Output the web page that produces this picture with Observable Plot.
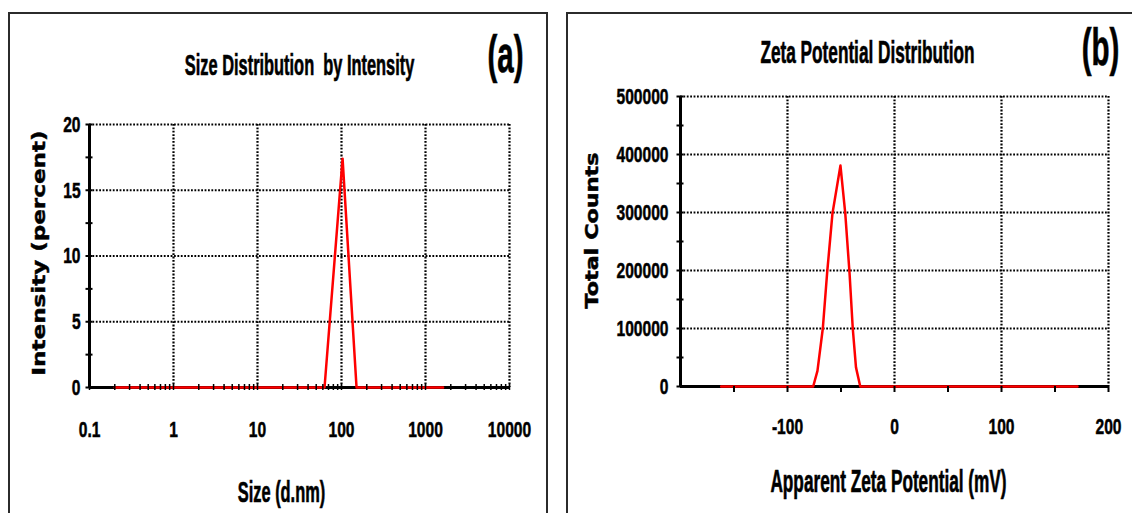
<!DOCTYPE html>
<html><head><meta charset="utf-8">
<script src="https://cdn.jsdelivr.net/npm/d3@7"></script>
<script src="https://cdn.jsdelivr.net/npm/@observablehq/plot@0.6"></script>
<style>
html,body{margin:0;padding:0;background:#fff;}
#wrap{position:relative;width:1132px;height:513px;overflow:hidden;background:#fff;}
.box{position:absolute;border:2px solid #2b2b2b;box-sizing:border-box;}
.panel{position:absolute;top:0;}
</style></head><body>
<div id="wrap">
  <div class="box" style="left:8px;top:12px;width:540px;height:540px"></div>
  <div class="box" style="left:566px;top:12px;width:600px;height:540px"></div>
  <div class="panel" id="pa" style="left:0px"></div>
  <div class="panel" id="pb" style="left:560px"></div>
</div>
<script>
// ---------- Panel (a): size distribution by intensity ----------
const sizeNm       = [0.2, 62.8, 103, 151, 1620];
const intensityPct = [0,   0,    17.4, 0,  0];
const sizeTicks      = [0.1, 1, 10, 100, 1000, 10000];
const sizeTickLabels = ["0.1", "1", "10", "100", "1000", "10000"];
const intensityTicks = [0, 5, 10, 15, 20];

// ---------- Panel (b): zeta potential distribution ----------
const zetaMv      = [-162, -76, -72, -67, -63, -58, -50.5, -46, -42, -39, -36, -32, 171];
const totalCounts = [0, 0, 27000, 100000, 195000, 298000, 381000, 298000, 195000, 100000, 33000, 0, 0];
const zetaTicks  = [-100, 0, 100, 200];
const countTicks = [0, 100000, 200000, 300000, 400000, 500000];

const FONT = '"Liberation Sans", Arial, sans-serif';
const WIDE = '"DejaVu Sans", Verdana, sans-serif';
const dotted = {stroke: "#000", strokeOpacity: 1, strokeWidth: 2.2, strokeDasharray: "1.8,1.6"};

const sizeData = sizeNm.map((s, i) => ({size: s, pct: intensityPct[i]}));
const zetaData = zetaMv.map((z, i) => ({mv: z, counts: totalCounts[i]}));

// log minor ticks
const minorLog = [];
for (let d = 0.1; d < 10000; d *= 10) for (let k = 1; k < 10; k++) minorLog.push(+(d * k).toPrecision(3));
minorLog.push(10000);

const baseStyle = {fontFamily: FONT, fontWeight: "bold", fontSize: "19px", color: "#000", background: "transparent", overflow: "visible"};

const plotA = Plot.plot({
  width: 560, height: 513,
  marginLeft: 89, marginRight: 51, marginTop: 124, marginBottom: 126,
  x: {type: "log", domain: [0.1, 10000]},
  y: {domain: [0, 20]},
  style: baseStyle,
  marks: [
    Plot.gridX({ticks: sizeTicks.slice(1), ...dotted}),
    Plot.gridY({ticks: intensityTicks.slice(1), ...dotted}),
    Plot.ruleX([0.1], {stroke: "#000", strokeWidth: 3}),
    Plot.ruleY([0], {stroke: "#000", strokeWidth: 3}),
    Plot.line(sizeData, {x: "size", y: "pct", stroke: "#ff0000", strokeWidth: 2.5}),
    Plot.axisX({ticks: minorLog, tickSize: 6, dy: -3, tickFormat: () => "", stroke: "#000", strokeWidth: 1.5, label: null}),
    Plot.axisY({ticks: d3.range(0, 20.01, 2.5), tickSize: 7, dx: 3.5, tickFormat: () => "", stroke: "#000", strokeWidth: 2, label: null}),
    Plot.axisX({ticks: sizeTicks, tickSize: 0, tickPadding: 35, tickFormat: (d) => sizeTickLabels[sizeTicks.indexOf(d)], fontSize: 19, label: null}),
    Plot.axisY({ticks: intensityTicks, tickSize: 0, tickPadding: 9, fontSize: 19, label: null}),
    Plot.text(["Size Distribution  by Intensity"], {frameAnchor: "top-left", textAnchor: "middle", lineAnchor: "bottom", dx: 210, dy: -52.5, fontSize: 20}),
    Plot.text(["(a)"], {frameAnchor: "top-left", textAnchor: "middle", lineAnchor: "bottom", dx: 416, dy: -58, fontSize: 36}),
    Plot.text(["Size (d.nm)"], {frameAnchor: "bottom-left", textAnchor: "middle", lineAnchor: "bottom", dx: 192, dy: 111, fontSize: 20}),
    Plot.text(["Intensity (percent)"], {frameAnchor: "left", textAnchor: "middle", lineAnchor: "bottom", rotate: -90, dx: -45, dy: -3, fontSize: 17.5, fontFamily: WIDE})
  ]
});

const plotB = Plot.plot({
  width: 572, height: 513,
  marginLeft: 120, marginRight: 24, marginTop: 96, marginBottom: 127,
  x: {domain: [-200, 200]},
  y: {domain: [0, 500000]},
  style: baseStyle,
  marks: [
    Plot.gridX({ticks: zetaTicks, ...dotted}),
    Plot.gridY({ticks: countTicks.slice(1), ...dotted}),
    Plot.ruleX([-200], {stroke: "#000", strokeWidth: 3}),
    Plot.ruleY([0], {stroke: "#000", strokeWidth: 3}),
    Plot.line(zetaData, {x: "mv", y: "counts", stroke: "#ff0000", strokeWidth: 2.5}),
    Plot.axisX({ticks: d3.range(-150, 201, 50), tickSize: 6, tickFormat: () => "", stroke: "#000", strokeWidth: 2, label: null}),
    Plot.axisY({ticks: d3.range(0, 500001, 50000), tickSize: 7, dx: 3.5, tickFormat: () => "", stroke: "#000", strokeWidth: 2, label: null}),
    Plot.axisX({ticks: zetaTicks, tickSize: 0, tickPadding: 33, tickFormat: (d) => String(d), fontSize: 19, label: null}),
    Plot.axisY({ticks: countTicks, tickSize: 0, tickPadding: 12, tickFormat: (d) => String(d), fontSize: 19, label: null}),
    Plot.text(["Zeta Potential Distribution"], {frameAnchor: "top-left", textAnchor: "middle", lineAnchor: "bottom", dx: 187, dy: -37, fontSize: 21}),
    Plot.text(["(b)"], {frameAnchor: "top-left", textAnchor: "middle", lineAnchor: "bottom", dx: 420, dy: -37, fontSize: 36}),
    Plot.text(["Apparent Zeta Potential (mV)"], {frameAnchor: "bottom-left", textAnchor: "middle", lineAnchor: "bottom", dx: 208, dy: 102, fontSize: 21}),
    Plot.text(["Total Counts"], {frameAnchor: "left", textAnchor: "middle", lineAnchor: "bottom", rotate: -90, dx: -83, dy: -11, fontSize: 17.5, fontFamily: WIDE})
  ]
});

document.getElementById("pa").appendChild(plotA);
document.getElementById("pb").appendChild(plotB);

// the reference typeface is tall, narrow and heavy: compress horizontally, stretch vertically
const rotLengths = {"Intensity (percent)": 245, "Total Counts": 156};
function post(svg) {
  d3.select(svg).selectAll("text").each(function () {
    const el = this;
    const t = el.getAttribute("transform") || "";
    const txt = el.textContent;
    if (!txt) return;
    el.style.stroke = "#000";
    el.style.strokeWidth = "0.45px";
    if (t.includes("rotate")) {
      if (rotLengths[txt]) {
        el.setAttribute("textLength", rotLengths[txt]);
        el.setAttribute("lengthAdjust", "spacingAndGlyphs");
      }
      return;
    }
    const isTick = !!el.closest('g[aria-label$="tick label"]');
    const sx = 0.82;
    const sy = isTick ? 1.2 : 1.45;
    const b = el.getBBox();
    const anchor = getComputedStyle(el).textAnchor;
    const cx = anchor === "end" ? b.x + b.width : anchor === "start" ? b.x : b.x + b.width / 2;
    const cy = b.y + b.height / 2;
    el.setAttribute("transform", `${t} translate(${cx},${cy}) scale(${sx},${sy}) translate(${-cx},${-cy})`);
  });
}
post(plotA);
post(plotB);
</script>
</body></html>
